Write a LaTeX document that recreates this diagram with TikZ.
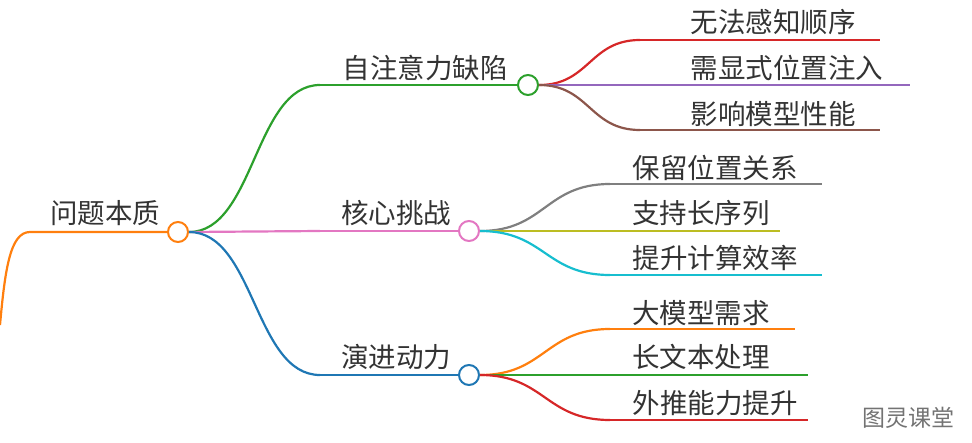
\documentclass[tikz,border=0pt]{standalone}
\usepackage{fontspec}
\newfontfamily\cjk{Noto Sans CJK SC}
\usetikzlibrary{positioning,calc}
\definecolor{morange}{HTML}{FF7F0E}
\definecolor{mgreen}{HTML}{2CA02C}
\definecolor{mpink}{HTML}{E377C2}
\definecolor{mblue}{HTML}{1F77B4}
\definecolor{mred}{HTML}{D62728}
\definecolor{mpurple}{HTML}{9467BD}
\definecolor{mbrown}{HTML}{8C564B}
\definecolor{mgray}{HTML}{7F7F7F}
\definecolor{molive}{HTML}{BCBD22}
\definecolor{mcyan}{HTML}{17BECF}
\tikzset{
  lbl/.style={font=\cjk\fontsize{27.5}{32}\selectfont, text=black!80, inner sep=0pt},
  dot/.style={circle, draw=#1, line width=2pt, fill=white, minimum size=20pt, inner sep=0pt},
  br/.style={draw=#1, line width=2.2pt}
}
\newcommand{\twig}[3]{% from, to, colour
  \draw[br=#3] let \p1=(#1), \p2=(#2) in
    (\p1) .. controls ({(\x1+\x2)/2},\y1) and ({(\x1+\x2)/2},\y2) .. (\p2);}
\begin{document}
\begin{tikzpicture}[x=1pt,y=-1pt]
  \useasboundingbox (0,0) rectangle (972,442);

  % root
  \coordinate (s0) at (0,325);
  \coordinate (s1) at (30,232);
  \node[dot=morange] (root) at (178,232) {};
  \node[lbl] (troot) at (105,213) {问题本质};
  \draw[br=morange] (s0) .. controls (5,270) and (10,232) .. (s1) -- (root.west);

  % level one
  \coordinate (a0) at (320,85);
  \coordinate (b0) at (320,231);
  \coordinate (c0) at (320,375);
  \node[dot=mgreen] (a) at (528,85) {};
  \node[dot=mpink] (b) at (469,231) {};
  \node[dot=mblue] (c) at (469,375) {};
  \node[lbl] (ta) at (425,68) {自注意力缺陷};
  \node[lbl] (tb) at (396,213) {核心挑战};
  \node[lbl] (tc) at (396,357) {演进动力};
  \twig{root.east}{a0}{mgreen}
  \twig{root.east}{b0}{mpink}
  \twig{root.east}{c0}{mblue}
  \draw[br=mgreen] (a0) -- (a.west);
  \draw[br=mpink] (b0) -- (b.west);
  \draw[br=mblue] (c0) -- (c.west);

  % leaves of a
  \coordinate (a1) at (640,40);  \coordinate (a1e) at (880,40);
  \coordinate (a3) at (640,130); \coordinate (a3e) at (880,130);
  \coordinate (a2e) at (910,85);
  \twig{a.east}{a1}{mred}    \draw[br=mred] (a1) -- (a1e);
  \draw[br=mpurple] (a.east) -- (a2e);
  \twig{a.east}{a3}{mbrown}  \draw[br=mbrown] (a3) -- (a3e);
  \node[lbl] (ta1) at (773,22) {无法感知顺序};
  \node[lbl] (ta2) at (787,68) {需显式位置注入};
  \node[lbl] (ta3) at (773,114) {影响模型性能};

  % leaves of b
  \coordinate (b1) at (610,184); \coordinate (b1e) at (822,184);
  \coordinate (b3) at (610,275); \coordinate (b3e) at (822,275);
  \coordinate (b2e) at (780,231);
  \twig{b.east}{b1}{mgray}   \draw[br=mgray] (b1) -- (b1e);
  \draw[br=molive] (b.east) -- (b2e);
  \twig{b.east}{b3}{mcyan}   \draw[br=mcyan] (b3) -- (b3e);
  \node[lbl] (tb1) at (715,168) {保留位置关系};
  \node[lbl] (tb2) at (701,213) {支持长序列};
  \node[lbl] (tb3) at (715,258) {提升计算效率};

  % leaves of c
  \coordinate (c1) at (610,329); \coordinate (c1e) at (795,329);
  \coordinate (c3) at (610,420); \coordinate (c3e) at (808,420);
  \coordinate (c2e) at (808,375);
  \twig{c.east}{c1}{morange} \draw[br=morange] (c1) -- (c1e);
  \draw[br=mgreen] (c.east) -- (c2e);
  \twig{c.east}{c3}{mred}    \draw[br=mred] (c3) -- (c3e);
  \node[lbl] (tc1) at (701,313) {大模型需求};
  \node[lbl] (tc2) at (701,357) {长文本处理};
  \node[lbl] (tc3) at (715,403) {外推能力提升};

  % watermark
  \node[lbl, text=black!55, font=\cjk\fontsize{23}{27}\selectfont] (wm) at (908,418) {图灵课堂};
\end{tikzpicture}
\end{document}
